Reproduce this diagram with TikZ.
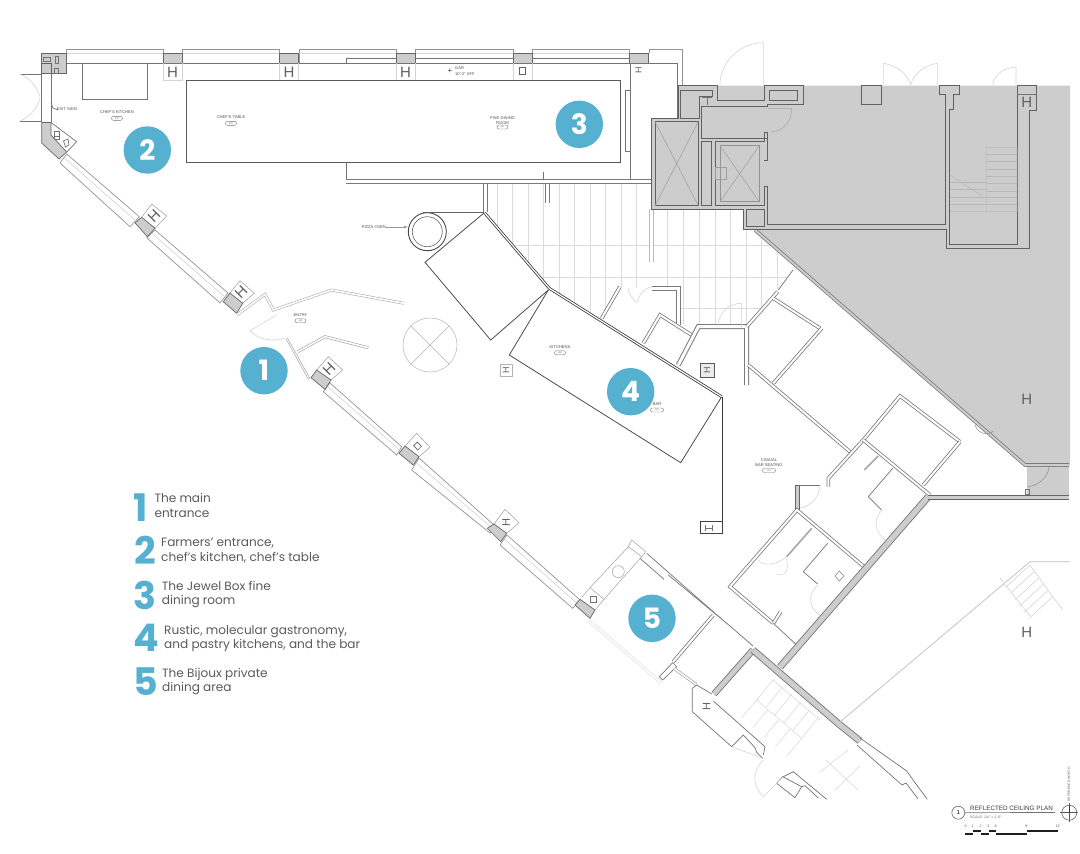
\documentclass[tikz,border=0pt]{standalone}
\usetikzlibrary{calc}
\usepackage{fontspec}
\setmainfont{Poppins}
\newfontfamily\plainfont{Liberation Sans}
\definecolor{badgeblue}{HTML}{56B0D0}
\definecolor{shaftgray}{HTML}{CDCDCD}
\definecolor{legendgray}{HTML}{5A5A5A}
\tikzset{
  wallline/.style={draw=black!62,line width=1pt},
  thinline/.style={draw=black!55,line width=.7pt},
  paneline/.style={draw=black!42,line width=.7pt},
  faintline/.style={draw=black!17,line width=.6pt},
  tileline/.style={draw=black!14,line width=.6pt},
  pierbox/.style={draw=black!60,fill=shaftgray,line width=.7pt},
  dblwall/.style={draw=black!52,line width=.8pt,double=white,double distance=2pt},
  widewall/.style={draw=black!52,line width=1pt,double=white,double distance=3pt},
  faintwall/.style={draw=black!22,line width=.6pt,double=white,double distance=1.6pt},
  badge/.style={circle,fill=badgeblue,text=white,inner sep=0pt,minimum size=47.4pt,font=\bfseries\fontsize{28}{28}\selectfont},
  legendnum/.style={text=badgeblue,inner sep=0pt,font=\bfseries\fontsize{38}{38}\selectfont},
  legendtext/.style={text=legendgray,inner sep=0pt,anchor=base west,font=\fontsize{12.1}{12.1}\selectfont},
  roomlabel/.style={text=black!70,inner sep=0pt,align=center,font=\plainfont\fontsize{4.1}{4.4}\selectfont},
  roomtag/.style={draw=black!55,line width=.4pt,rounded corners=2pt,inner sep=0pt,minimum width=11pt,minimum height=4pt,text=black!60,font=\plainfont\fontsize{2.4}{2.4}\selectfont},
  colmark/.style={text=black!62,inner sep=0pt,font=\plainfont\fontsize{15}{15}\selectfont},
}
\begin{document}
\begin{tikzpicture}[x=1pt,y=-1pt]
\useasboundingbox (0,0) rectangle (1080,854);
% Shaded area on the right
\fill[shaftgray] (678,85.5) -- (1070,85.5) -- (1070,465) -- (1025,465) -- (755,230) -- (743,229) -- (743,209) -- (652,209) -- (652,118) -- (678,118) -- cycle;
\fill[shaftgray] (1027,466) rectangle (1069,495);
% Floor tiles
\begin{scope}
\clip (485,184) -- (652,184) -- (652,287) -- (620,287) -- (600,317) -- (549,288) -- (485,213) -- cycle;
\foreach \x in {497,512.7,528,543,559,574,590,605.7,621,636.7}
  \draw[tileline] (\x,184) -- (\x,320);
\foreach \y in {245,277}
  \draw[tileline] (485,\y) -- (652,\y);
\end{scope}
\begin{scope}
\clip (652,209) -- (743,209) -- (743,229) -- (755,230) -- (795,268) -- (747,327) -- (698,327) -- (678,323) -- (678,287) -- (652,287) -- cycle;
\foreach \x in {667.7,683,699,715,730,746,761.7,777}
  \draw[tileline] (\x,209) -- (\x,330);
\foreach \y in {245,277,308}
  \draw[tileline] (652,\y) -- (800,\y);
\end{scope}
% Top row of windows
\foreach \xa/\xb in {66/163,182/279,299/396,415/513,532/629}
{
  \draw[paneline] (\xa,63) -- (\xa,49) -- (\xb,49) -- (\xb,63);
  \draw[faintline] (\xa,53) -- (\xb,53);
}
\foreach \xa in {163,279,396,513,629}
  \draw[pierbox] (\xa,53) rectangle +(19.5,10);
\draw[paneline] (649,53) -- (649,49) -- (682,49) -- (682,85);
\draw[thinline] (51,63) -- (677,63) -- (677,118);
\draw[thinline] (346,63) -- (346,58) -- (396,58) (415,58) -- (513,58) (532,58) -- (629,58);
\foreach \xa in {163,279,396,513}
  \draw[faintline] (\xa,63) -- (\xa,80) (\xa+19.5,63) -- (\xa+19.5,80);
\draw[faintline] (163,80) -- (182.5,80);
% Dining room boxes
\draw[draw=black!65,line width=.9pt] (186,80) rectangle (620.5,162);
\draw[thinline] (346,162) -- (346,179);
\draw[thinline] (630,63) -- (630,179);
\draw[thinline] (625,90) rectangle (630,151);
\draw[widewall] (485.5,184) -- (485.5,212);
\draw[widewall] (547.5,184) -- (547.5,203);
\draw[widewall] (346,181.5) -- (652,181.5);
\draw[thinline] (543,172) -- (543,179);
\draw[thinline] (82,63) rectangle (147,99);
% Left corner and farmers' door
\draw[pierbox] (41.7,53) -- (66,53) -- (66,73) -- (51,73) -- (51,63) -- (41.7,63) -- cycle;
\fill[shaftgray,draw=black!62,line width=.6pt] (41.7,63) rectangle (51,73);
\draw[thinline] (41.7,73) -- (41.7,122) (51,73) -- (51,122);
\draw[thinline] (20,74) -- (41.7,74) (20,121) -- (41.7,121);
\draw[faintline] (20,74) .. controls (30,78) and (38,88) .. (40,97) (20,121) .. controls (30,117) and (38,107) .. (40,98);
\draw[pierbox] (41.7,122.5) -- (51,122.5) -- (51,135) -- (66.7,152) -- (59,159) -- (41.7,143) -- cycle;
\draw[thinline] (51,122.5) -- (76.7,141.7) -- (66.7,152);
\draw[thinline] (43,57) rectangle (50,61) (55,56) rectangle (58,63) (54,68) rectangle (58,73);
\draw[thinline] (54,131) rectangle (59,136) (54,136) rectangle (59,139);
\draw[thinline] (63.5,141) -- (68,139) -- (69,145) -- (65.5,147) -- cycle;
\draw[thinline] (51,103) -- (53,108) -- (58,110);
% South-west windows
\foreach \ax/\ay/\bx/\by/\cx/\cy/\dx/\dy in {60/163/130/226.7/139.3/216.7/66.7/154, 147/238/220/303/228/293/155/230, 323.3/391.7/396.7/455/401.7/446.7/330/383, 411.7/470/490/533/494/525/419/458, 500/545/572.7/608.3/580/600/507/535}
{
  \draw[paneline,fill=white] (\ax,\ay) -- (\bx,\by) -- (\cx,\cy) -- (\dx,\dy) -- cycle;
  \draw[faintline] ($(\ax,\ay)!.6!(\dx,\dy)$) -- ($(\bx,\by)!.6!(\cx,\cy)$);
}
\foreach \ax/\ay/\bx/\by/\cx/\cy/\dx/\dy in {135/222.7/147.3/236.7/155/228.3/141.7/217.3, 223.3/301.7/236.7/313.3/242.7/303.3/230/293, 311/377.7/325/389.3/331/380/316.7/370, 399/453.3/413.3/465/419/456.7/405/446, 487.3/528.3/500.7/541.7/506.7/533.3/494/524, 575/605/590/618.3/595/610/580/599.3}
  \draw[pierbox] (\ax,\ay) -- (\bx,\by) -- (\cx,\cy) -- (\dx,\dy) -- cycle;
\draw[faintline,draw=black!35] (141.7,217.3) -- (151.7,204) -- (166.7,216) -- (155,228.3);
\draw[faintline,draw=black!35] (230,293) -- (240,280.7) -- (254.3,293.3) -- (242.7,303.3);
\draw[faintline,draw=black!35] (316.7,370) -- (328.3,356.7) -- (342.7,370) -- (331,380);
\draw[faintline,draw=black!35] (405,446) -- (416.7,433.3) -- (430,447.3) -- (419,456.7);
\draw[faintline,draw=black!35] (494,524) -- (505,509.3) -- (519,522.7) -- (506.7,533.3);
% Entry
\draw[faintwall,draw=black!32] (236.7,315) -- (265,294.3) -- (273.3,310) -- (331.7,290) -- (404,303.3);
\draw[faintline] (276.7,315) -- (250,330.7) .. controls (258,340) and (274,342) .. (285,338.3);
\draw[faintwall,draw=black!38,double distance=1pt] (286.7,338.3) -- (309.3,379);
\draw[faintwall,draw=black!38] (297.7,351.7) -- (325,336.7) -- (368.3,347.7);
\node[draw=black!25,circle,line width=.6pt,minimum size=54pt,inner sep=0pt] (rotunda) at (430,345) {};
\draw[draw=black!30,line width=.6pt] (rotunda.north west) -- (rotunda.south east) (rotunda.north east) -- (rotunda.south west);
% Kitchen blocks and pizza oven
\node[circle,draw=black!72,line width=.9pt,minimum size=38pt,inner sep=0pt] (ovenouter) at (427.3,231.7) {};
\node[circle,draw=black!60,line width=.6pt,minimum size=30pt,inner sep=0pt] (ovenring) at (427.3,231.7) {};
\draw[wallline] (423,212.7) -- (484,212.7);
\draw[thinline,draw=black!70,line width=.8pt] (484,213) -- (425,262.3) -- (490.7,340) -- (548.3,290);
\draw[thinline,draw=black!70,line width=.8pt] (548.3,290) -- (509.3,355) -- (680.7,462.7) -- (721.7,396.7);
\draw[dblwall,draw=black!78,double distance=1.2pt] (484.5,212.7) -- (549.3,288.3) -- (721.7,396.7);
\draw[draw=black!78,line width=1.5pt] (722.3,396.7) -- (722.3,521.7);
\draw[draw=black!75,line width=1.1pt] (700.7,521.7) rectangle (722.3,533.3);
\draw[thinline] (705,525) -- (705,531) (705,528) -- (712,528) (712,525) -- (712,531);
\draw[thinline,draw=black!30] (500,364) rectangle (512,376);
\draw[thinline,draw=black!65,fill=black!8] (700,363) rectangle (714,377);
% Service rooms behind the bar
\draw[dblwall] (601.7,318.3) -- (620,286.7);
\draw[widewall,draw=black!28] (651.7,209) -- (651.7,262);
\draw[faintline] (628,288) .. controls (630,300) and (640,305) .. (638,301) (651,287) .. controls (640,290) and (638,300) .. (638,301);
\draw[widewall] (651.7,288.3) -- (678.3,288.3) -- (678.3,325);
\draw[dblwall] (643.3,343.3) -- (660,315) -- (691.7,335);
\draw[widewall] (678.3,365) -- (698.3,326.7) -- (746.7,326.7) -- (746.7,385);
\draw[dblwall] (746.7,326.7) -- (777.7,291.7);
\draw[thinline] (793,270) -- (778.3,290);
\draw[dblwall] (748.3,365) -- (850,451.7);
\draw[dblwall] (773.3,298.3) -- (820,328.3);
\draw[dblwall] (821.7,328.3) -- (773.3,383.3);
\draw[faintline] (741.7,303.3) -- (741.7,327) (741.7,303.3) .. controls (728,303) and (718,314) .. (718,326.7);
\draw[dblwall] (828.3,486.7) -- (828.3,478.3) -- (863.3,440) -- (900,396) -- (960,441.7);
\draw[dblwall] (960,441.7) -- (923.3,485);
\draw[dblwall] (863.3,440) -- (930,495);
\draw[thinline] (797.3,485) -- (820,485);
\draw[faintline] (820,485) .. controls (820,497) and (810,508) .. (798,508);
\draw[pierbox] (795.5,485) rectangle (799,510);
\draw[dblwall] (864,566.7) -- (797,510) -- (730,586.7) -- (773.3,623.3);
\draw[dblwall] (773.3,623.3) -- (780.7,611.7);
\draw[thinline] (773.3,623.3) -- (796.7,645);
\draw[draw=black!35,line width=1.6pt] (786.7,556.7) -- (811.7,528.3);
\draw[thinline] (827.7,543.3) -- (803.3,571.7) -- (817.7,584);
\draw[draw=black!35,line width=1.6pt] (864.3,470) -- (878.3,456);
\draw[thinline] (892.7,468.3) -- (868.3,496.7) -- (881.7,510);
\draw[faintline] (786,557) .. controls (776,566) and (762,566) .. (758,560) (786,557) .. controls (790,570) and (785,578) .. (776,574);
\draw[faintline] (818,585) .. controls (806,595) and (810,610) .. (820,615) (881,511) .. controls (873,520) and (875,532) .. (885,540);
\draw[thinline,draw=black!40] (835,576) -- (839.3,571) -- (844,576) -- (839.3,581) -- cycle;
% Bold structural bands
\draw[black!58,line width=7pt] (780,667) -- (928,497);
\draw[shaftgray,line width=5.4pt] (780,667) -- (928,497);
\draw[black!58,line width=6.4pt] (714,694) -- (753,650);
\draw[shaftgray,line width=4.8pt] (714,694) -- (753,650);
\draw[black!58,line width=7pt] (753,650) -- (840,725) -- (860,741);
\draw[shaftgray,line width=5.4pt] (753,650) -- (840,725) -- (860,741);
\draw[thinline] (860,738) -- (906.7,771) -- (916.7,785) -- (927.3,799.3);
\draw[thinline] (857,745) -- (902,785) -- (906,783) -- (918,799);
\draw[black!60,line width=5.4pt] (928,497.5) -- (1069,497.5);
\draw[shaftgray,line width=3.6pt] (928,497.5) -- (1069,497.5);
\draw[dblwall,double=shaftgray] (755,230) -- (1025,465) -- (1069,465);
\draw[thinline] (1025,489) rectangle (1029,494);
\draw[faintline,draw=black!40] (975,425) .. controls (978,434) and (988,436) .. (993.3,431);
\draw[faintline,draw=black!40] (1027,487) .. controls (1035,486) and (1048,480) .. (1049,467);
% Elevator core
\draw[wallline] (651.7,118.3) -- (678,118.3) -- (678,85.3) -- (717.7,85.3) -- (717.7,100.7) -- (764.3,100.7) -- (764.3,85.3) -- (803.3,85.3) -- (803.3,104) -- (767,104) -- (767,106) -- (701.7,106) -- (701.7,138) -- (768,138);
\draw[wallline] (680.7,118) -- (680.7,90.7) -- (712.7,90.7) -- (712.7,96) -- (699.3,96) -- (699.3,118) -- cycle;
\draw[wallline] (769.3,90.7) rectangle (797.3,100.7);
\draw[wallline] (861.7,85.3) rectangle (881,104);
\draw[wallline] (651.7,118.3) -- (651.7,209.3) -- (743.3,209.3) -- (743.3,229.3) -- (946,229.3) -- (946,248.3) -- (1029.3,248.3) -- (1029.3,110) -- (1036.7,110) -- (1036.7,85.3) -- (1017.3,85.3) -- (1017.3,244) -- (949.3,244) -- (949.3,109.3) -- (953.3,109.3) -- (953.3,94) -- (959,94) -- (959,85.3) -- (939.3,85.3) -- (939.3,94) -- (945,94) -- (945,224) -- (767.7,224) -- (767.7,186.7) -- (764,186.7) -- (764,205.7) -- (715.7,205.7) -- (715.7,141.7) -- (764,141.7) -- (764,132.7) -- (767.7,132.7) -- (767.7,160) -- (764,160);
\draw[wallline] (655,121.7) rectangle (698.3,205.7);
\draw[wallline] (701.7,141.7) rectangle (711.7,205.7);
\draw[wallline] (746.7,209.3) rectangle (764,226);
\draw[thinline] (1017.3,94) -- (1036.7,94);
\draw[draw=black!38,line width=.5pt] (655,121.7) -- (698.3,205.7) (698.3,121.7) -- (655,205.7);
\draw[draw=black!42,line width=.9pt] (720,145.7) rectangle (759.3,201.7);
\draw[draw=black!38,line width=.5pt] (720,145.7) -- (759.3,201.7) (759.3,145.7) -- (720,201.7);
\draw[draw=black!38,line width=.5pt] (715,167.3) rectangle (726.7,179.3);
\draw[draw=black!35,line width=.5pt] (768,108.3) -- (791.7,108.3) .. controls (791.7,122) and (783,131) .. (771.7,131.7);
\draw[thinline] (702,97) -- (712,97) (707,97) -- (707,105);
% Stair in the shaded area
\draw[draw=black!28,line width=.5pt] (986,147.3) rectangle (1017,211.7) (950,211.7) -- (986,211.7) (950,175) -- (982,196);
\foreach \y in {154,161,169,176,183,191,197,204}
  \draw[draw=black!28,line width=.5pt] (986,\y) -- (1017,\y);
\foreach \y in {182,189,197,204}
  \draw[draw=black!28,line width=.5pt] (950,\y) -- (986,\y);
% Doors along the top edge
\draw[faintline] (763.3,42.7) -- (763.3,85) (763.3,42.7) .. controls (740,42.7) and (720,62) .. (720,85);
\draw[faintline] (883.3,63.3) -- (883.3,85) (883.3,63.3) .. controls (896,65) and (908,74) .. (910.7,85);
\draw[faintline] (937.3,63.3) -- (937.3,85) (937.3,63.3) .. controls (925,65) and (913,74) .. (910.7,85);
\draw[faintline] (1016,67) -- (1016,85) (1016,67) .. controls (1003,68) and (994,75) .. (992.7,85);
% Bijoux room
\draw[faintline,draw=black!32] (581.7,597.3) -- (590,587.7) -- (604,599.3) -- (595,610);
\draw[thinline] (590,596) rectangle (596,602);
\draw[faintline,draw=black!32] (590,587.7) -- (628.3,546.7) (604,599.3) -- (641.7,556.7);
\draw[faintline,draw=black!32] (628.3,546.7) -- (631.7,540) -- (645.7,551.7) -- (641.7,556.7) -- cycle;
\node[circle,draw=black!32,line width=.6pt,minimum size=12pt,inner sep=0pt] (sink) at (618.3,571.7) {};
\draw[thinline] (640,558.3) -- (664,579.3) (646.7,553.3) -- (715,613.3);
\draw[thinline] (668.3,575) -- (730,626) (715,613.3) -- (730,626);
\draw[thinline] (730,626) -- (753,646);
\draw[faintwall,draw=black!14] (588.3,620) -- (661.7,683.3);
\draw[dblwall] (673.3,661.7) -- (713.3,615);
\draw[thinline] (659.3,676.7) -- (672.7,662.7) -- (676.7,666.7) -- (662.7,680) -- cycle;
\draw[faintwall,draw=black!42] (674,668.3) -- (696.7,685);
\draw[thinline] (696.7,685) -- (692.3,688.3) -- (692.3,711.7) -- (731.7,746.7) -- (743.3,735) -- (755,747.7) -- (756.7,752.3) -- (762.7,758.3);
\draw[thinline] (696.7,685) -- (711.7,694) (713.3,701) -- (765,746.7) -- (763.3,755);
\draw[faintline] (731.7,746.7) -- (762,758);
% Lower stairs and doors
\draw[tileline] (756.7,700) -- (801.7,738.3) (773,680) -- (820,720);
\foreach \s in {0,.2,.4,.6,.8,1}
  \draw[tileline] ($(756.7,700)!\s!(801.7,738.3)$) -- ++(17,-21);
\foreach \s in {0,.25,.5,.75,1}
  \draw[tileline] ($(756.7,700)!\s!(801.7,738.3)$) -- ++(-15,18);
\draw[thinline] (783.3,776.7) -- (793.3,771.7) -- (826.7,799.3);
\draw[thinline] (776.7,783.3) -- (782.7,776.7) -- (801.7,786.7) -- (795,797.7) -- cycle;
\draw[thinline] (801.7,786.7) -- (805,785.7) -- (818.3,798);
\draw[faintline] (763,760) .. controls (752,772) and (752,785) .. (763.3,796.7);
\draw[faintline] (763.3,796.7) -- (783,777);
\draw[tileline] (820,772) -- (848,750) (835,790) -- (860,766) (826,760) -- (858,790);
% Area to the lower right
\draw[draw=black!26,line width=.7pt] (1070,561.7) -- (1030,561.7) -- (840,722);
\draw[faintline] (1006.7,586.7) -- (1030,616) (1030,565) -- (1052.7,596.7) (1052.7,596.7) -- (1063,610) (1000,578) -- (1006.7,586.7);
\foreach \s in {0,.2,.4,.6,.8,1}
  \draw[faintline] ($(1030,565)!\s!(1052.7,596.7)$) -- ++(-24,22);
% Column marks
\foreach \n/\x/\y/\r in {a/172.5/72/0,b/289/72/0,c/405.5/72/0,d/154/216/45,e/241/292/45,f/329/369/45,g/1026.7/399.3/0,h/1026.7/632.3/0,i/1026.7/102.7/0}
  \node[colmark,rotate=\r] (col\n) at (\x,\y) {H};
\node[colmark,rotate=90,font=\plainfont\fontsize{9}{9}\selectfont] (colj) at (638.5,70.5) {H};
\node[colmark,rotate=90,font=\plainfont\fontsize{9}{9}\selectfont] (colk) at (506,370) {H};
\node[colmark,rotate=90,font=\plainfont\fontsize{9}{9}\selectfont] (coll) at (707,370) {H};
\node[colmark,rotate=90,font=\plainfont\fontsize{11}{11}\selectfont] (colm) at (706.7,706.7) {H};
\node[colmark,rotate=90,font=\plainfont\fontsize{11}{11}\selectfont] (coln) at (506,523) {H};
\node[draw=black!62,line width=.7pt,minimum width=6pt,minimum height=7pt,inner sep=0pt] (colo) at (522,70.5) {};
\node[draw=black!62,line width=.7pt,rotate=45,minimum width=5pt,minimum height=6pt,inner sep=0pt] (colp) at (417.5,446) {};
% Room labels
\node[roomlabel] (kitchenlbl) at (117,112.5) {CHEF'S KITCHEN};
\node[roomtag] (kitchentag) at (117,118.3) {300};
\node[roomlabel] (tablelbl) at (231,117.3) {CHEF'S TABLE};
\node[roomtag] (tabletag) at (231,123.3) {300};
\node[roomlabel] (dininglbl) at (502.5,120.5) {FINE DINING\\ROOM};
\node[roomtag] (diningtag) at (502.5,127) {307};
\node[roomlabel] (entrylbl) at (300.5,315) {ENTRY};
\node[roomtag] (entrytag) at (300.5,320.7) {301};
\node[roomlabel] (cookinglbl) at (560,347) {KITCHENS};
\node[roomtag] (cookingtag) at (560,352.7) {308};
\node[roomlabel] (barlbl) at (657,404.5) {BAR};
\node[roomtag,minimum width=13pt] (bartag) at (657,410) {301};
\node[roomlabel] (seatinglbl) at (769,462.7) {CASUAL\\BAR SEATING};
\node[roomtag,minimum width=13pt] (seatingtag) at (769,470.5) {314};
\node[roomlabel] (exitlbl) at (67,109) {EXIT SIGN};
\node[roomlabel] (pizzalbl) at (374,227) {PIZZA OVEN};
\coordinate (ovenleft) at (408,227);
\draw[draw=black!40,line width=.4pt,-latex] (pizzalbl) -- (ovenleft);
\node[roomlabel,anchor=west] (garlbl) at (455,68) {GAR};
\node[roomlabel,anchor=west] (afflbl) at (455,74) {10'-2" AFF};
\node[text=black!75,inner sep=0pt,font=\plainfont\fontsize{8}{8}\selectfont] (garmark) at (450,71) {+};
% Numbered circles on the plan
\foreach \n/\x/\y in {1/264/370.7,2/147.3/150,3/579.3/124.3,4/630.7/391.7,5/652/618.3}
  \node[badge] (badge\n) at (\x,\y) {\n};
% Legend
\foreach \n/\x/\y in {1/140.7/507.3,2/145/550.7,3/145/595,4/146/638,5/146/682}
  \node[legendnum] (legend\n) at (\x,\y) {\n};
\node[legendtext] (texta) at (154.3,502.7) {The main};
\node[legendtext] (textb) at (154.3,517.7) {entrance};
\node[legendtext] (textc) at (161,546.7) {Farmers' entrance,};
\node[legendtext] (textd) at (161,561) {chef's kitchen, chef's table};
\node[legendtext] (texte) at (161.7,590) {The Jewel Box fine};
\node[legendtext] (textf) at (161.7,604.3) {dining room};
\node[legendtext] (textg) at (164,634) {Rustic, molecular gastronomy,};
\node[legendtext] (texth) at (164,648) {and pastry kitchens, and the bar};
\node[legendtext] (texti) at (162,677) {The Bijoux private};
\node[legendtext] (textj) at (162,691.7) {dining area};
% Title block
\node[circle,draw=black!60,line width=.6pt,minimum size=13pt,inner sep=0pt,font=\plainfont\fontsize{6}{6}\selectfont] (sheetno) at (958.3,812.7) {1};
\coordinate (titleend) at (1055,812.5);
\draw[thinline] (sheetno) -- (titleend);
\node[inner sep=0pt,anchor=base west,text=black!78,font=\plainfont\fontsize{6.3}{6.3}\selectfont] (plantitle) at (970,810) {REFLECTED CEILING PLAN};
\node[inner sep=0pt,anchor=base west,text=black!60,font=\plainfont\fontsize{3.6}{3.6}\selectfont] (planscale) at (970,818.5) {SCALE: 1/4" = 1'-0"};
\foreach \xa/\xb/\y in {965/972.5/834,972.5/980.5/831,980.5/988.5/834,988.5/996/831,996/1026.7/834,1026.7/1058/831}
  \draw[black!88,line width=2.2pt] (\xa,\y) -- (\xb,\y);
\foreach \x/\t in {965.7/0,972.7/1,980.7/2,988.3/3,996/4',1026.7/8',1058/12'}
  \node[inner sep=0pt,text=black!65,font=\plainfont\fontsize{3.6}{3.6}\selectfont] at (\x,826) {\t};
\node[circle,draw=black!60,line width=.6pt,minimum size=15pt,inner sep=0pt] (northmark) at (1069.3,812.7) {};
\draw[black!65,line width=.5pt] (1060,812.7) -- (1078,812.7) (1069.3,803) -- (1069.3,822);
\draw[black!80,line width=1.2pt] (1069.3,806) -- (1069.3,813);
\node[inner sep=0pt,rotate=90,text=black!60,font=\plainfont\fontsize{3.4}{3.4}\selectfont] (northlbl) at (1069,784.5) {REFERENCE NORTH};
\end{tikzpicture}
\end{document}
